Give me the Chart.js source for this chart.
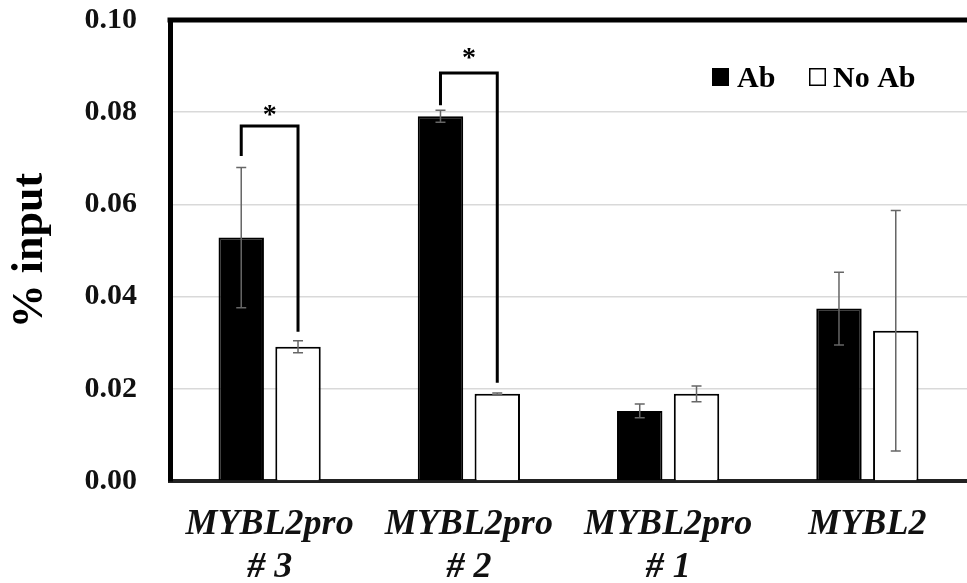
<!DOCTYPE html>
<html>
<head>
<meta charset="utf-8">
<script src="https://cdn.jsdelivr.net/npm/chart.js@4.4.1/dist/chart.umd.min.js"></script>
<style>
    html, body { margin: 0; padding: 0; background: #fff; overflow: hidden; }
    #wrap { width: 967px; height: 583px; }
</style>
</head>
<body>
<div id="wrap"><canvas id="chip-chart"></canvas></div>
<script>
// ChIP-qPCR enrichment, % of input
const categories = [['MYBL2pro', '# 3'], ['MYBL2pro', '# 2'], ['MYBL2pro', '# 1'], 'MYBL2'];
const abValues = [0.0528, 0.0791, 0.0152, 0.0374];
const abErrors = [0.0152, 0.0013, 0.0015, 0.0079];
const noAbValues = [0.0291, 0.0189, 0.0189, 0.0326];
const noAbErrors = [0.0013, 0.0002, 0.0017, 0.0261];
const yTicks = [0, 0.02, 0.04, 0.06, 0.08, 0.10];

// significance brackets: category index, top of bracket, bottom of each leg
const sigIndex = [0, 1];
const sigTop = [0.0770, 0.0885];
const sigLeftLeg = [0.0705, 0.0815];
const sigRightLeg = [0.0324, 0.0213];

const serif = '"Liberation Serif", "Times New Roman", serif';
const errorSets = [abErrors, noAbErrors];

// Draws the +/- error whiskers on top of each bar
const errorBars = {
    id: 'errorBars',
    afterDatasetsDraw(chart) {
        const { ctx, scales: { y } } = chart;
        ctx.save();
        ctx.strokeStyle = '#666';
        ctx.lineWidth = 1.5;
        chart.data.datasets.forEach((ds, di) => {
            const meta = chart.getDatasetMeta(di);
            meta.data.forEach((bar, i) => {
                const v = ds.data[i], e = errorSets[di][i];
                const top = y.getPixelForValue(v + e);
                const bot = y.getPixelForValue(v - e);
                ctx.beginPath();
                ctx.moveTo(bar.x, top); ctx.lineTo(bar.x, bot);
                ctx.moveTo(bar.x - 5, top); ctx.lineTo(bar.x + 5, top);
                ctx.moveTo(bar.x - 5, bot); ctx.lineTo(bar.x + 5, bot);
                ctx.stroke();
            });
        });
        ctx.restore();
    }
};

// Brackets with asterisks, top frame line and the inline legend
const annotations = {
    id: 'annotations',
    afterDraw(chart) {
        const { ctx, chartArea, scales: { y } } = chart;
        const abMeta = chart.getDatasetMeta(0);
        const noMeta = chart.getDatasetMeta(1);
        ctx.save();

        // top frame
        ctx.strokeStyle = '#000';
        ctx.lineWidth = 5;
        ctx.beginPath();
        ctx.moveTo(chartArea.left - 2.5, chartArea.top);
        ctx.lineTo(chartArea.right + 5, chartArea.top);
        ctx.stroke();

        // brackets
        ctx.lineWidth = 3;
        ctx.lineJoin = 'miter';
        sigIndex.forEach((idx, k) => {
            const x1 = abMeta.data[idx].x;
            const x2 = noMeta.data[idx].x;
            const yt = y.getPixelForValue(sigTop[k]);
            ctx.beginPath();
            ctx.moveTo(x1, y.getPixelForValue(sigLeftLeg[k]));
            ctx.lineTo(x1, yt);
            ctx.lineTo(x2, yt);
            ctx.lineTo(x2, y.getPixelForValue(sigRightLeg[k]));
            ctx.stroke();

            ctx.fillStyle = '#000';
            ctx.font = 'bold 28px ' + serif;
            ctx.textAlign = 'center';
            ctx.textBaseline = 'alphabetic';
            ctx.fillText('*', (x1 + x2) / 2, yt - 3 - k * 4);
        });

        // legend
        const lx = chartArea.right - 255;
        const ly = chartArea.top + 48;
        ctx.font = 'bold 30px ' + serif;
        ctx.textAlign = 'left';
        ctx.fillStyle = '#000';
        ctx.fillRect(lx, ly, 17, 18);
        ctx.fillText(chart.data.datasets[0].label, lx + 25, ly + 19);
        ctx.lineWidth = 1.5;
        ctx.strokeStyle = '#000';
        ctx.fillStyle = '#fff';
        ctx.fillRect(lx + 97, ly, 17, 18);
        ctx.strokeRect(lx + 97.75, ly + 0.75, 15.5, 16.5);
        ctx.fillStyle = '#000';
        ctx.fillText(chart.data.datasets[1].label, lx + 121, ly + 19);

        ctx.restore();
    }
};

new Chart(document.getElementById('chip-chart'), {
    type: 'bar',
    data: {
        labels: categories,
        datasets: [
            {
                label: 'Ab',
                data: abValues,
                backgroundColor: '#000',
                borderColor: '#000',
                borderWidth: 2
            },
            {
                label: 'No Ab',
                data: noAbValues,
                backgroundColor: '#fff',
                borderColor: '#000',
                borderWidth: 2
            }
        ]
    },
    options: {
        responsive: true,
        maintainAspectRatio: false,
        animation: false,
        categoryPercentage: 0.57,
        barPercentage: 0.8,
        layout: { padding: { top: 20, left: 0, right: 0, bottom: 0 } },
        plugins: {
            legend: { display: false },
            tooltip: { enabled: false }
        },
        scales: {
            x: {
                grid: { display: false },
                border: { display: true, color: '#222', width: 4 },
                ticks: {
                    color: '#111',
                    padding: 14,
                    font: { family: serif, size: 36, weight: 'bold', style: 'italic', lineHeight: 1.2 }
                },
                afterFit(scale) { scale.height = 102; }
            },
            y: {
                min: 0,
                max: 0.1,
                afterBuildTicks(scale) { scale.ticks = yTicks.map(v => ({ value: v })); },
                // invisible tick marks push the labels away from the frame
                grid: { color: '#d9d9d9', lineWidth: 1.5, drawTicks: true, tickLength: 33, tickColor: 'rgba(0,0,0,0)' },
                border: { display: true, color: '#000', width: 5 },
                ticks: {
                    color: '#111',
                    padding: 0,
                    font: { family: serif, size: 30, weight: 'bold' },
                    callback: v => v.toFixed(2)
                },
                title: {
                    display: true,
                    text: '% input',
                    color: '#000',
                    padding: { top: 4, bottom: 0 },
                    font: { family: serif, size: 44, weight: 'bold', lineHeight: 1.2 }
                },
                afterFit(scale) { scale.width = 170; }
            }
        }
    },
    plugins: [errorBars, annotations]
});
</script>
</body>
</html>
